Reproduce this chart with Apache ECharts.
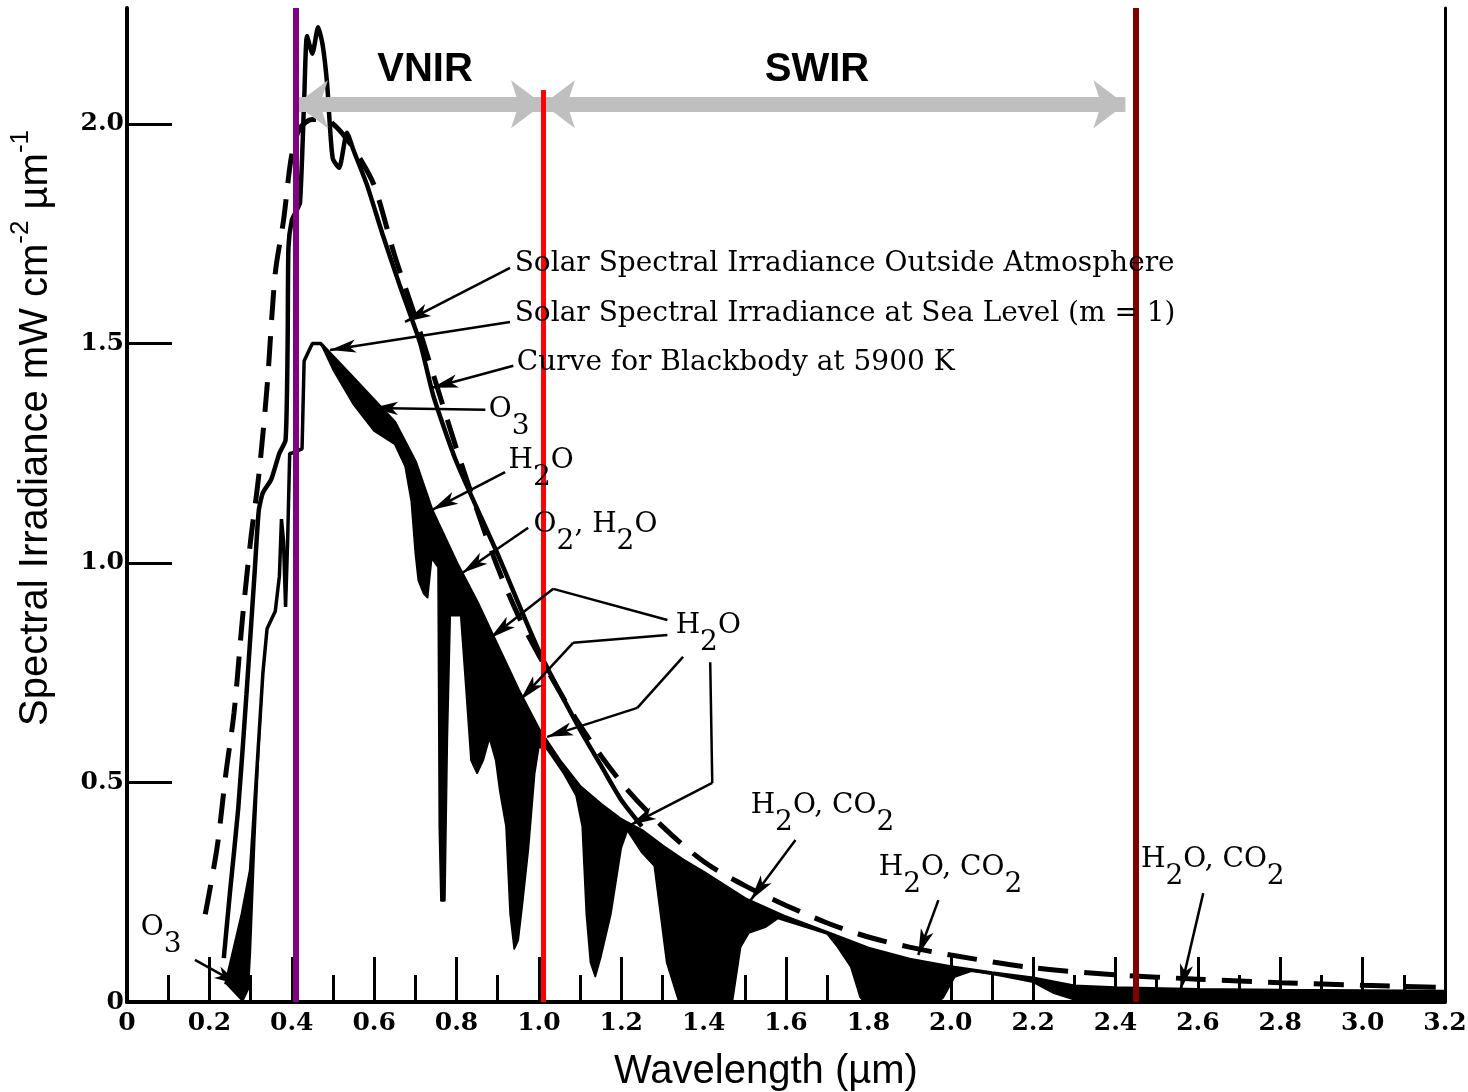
<!DOCTYPE html>
<html>
<head>
<meta charset="utf-8">
<title>Solar spectral irradiance</title>
<script src="https://cdn.jsdelivr.net/npm/echarts@6.0.0/dist/echarts.min.js"></script>
<style>
  html, body { margin: 0; padding: 0; background: #fff; }
  #chart { width: 1468px; height: 1092px; }
</style>
</head>
<body>
<div id="chart"></div>
<script>
// values: wavelength in µm, irradiance in mW cm-2 µm-1
var xTickVals = [0, 0.2, 0.4, 0.6, 0.8, 1.0, 1.2, 1.4, 1.6, 1.8, 2.0, 2.2, 2.4, 2.6, 2.8, 3.0, 3.2];
var xTickLabels = ['0', '0.2', '0.4', '0.6', '0.8', '1.0', '1.2', '1.4', '1.6', '1.8', '2.0', '2.2', '2.4', '2.6', '2.8', '3.0', '3.2'];
var yTickVals = [0, 0.5, 1.0, 1.5, 2.0];
var yTickLabels = ['0', '0.5', '1.0', '1.5', '2.0'];

// blackbody 5900 K (dashed)
var bbLam = [0.19, 0.20, 0.22, 0.24, 0.26, 0.28, 0.30, 0.32, 0.34, 0.36, 0.38, 0.40, 0.42, 0.45, 0.48, 0.50, 0.53, 0.56, 0.60, 0.65, 0.70, 0.75, 0.80, 0.85, 0.90, 0.95, 1.00, 1.10, 1.20, 1.30, 1.40, 1.50, 1.60, 1.70, 1.80, 1.90, 2.00, 2.20, 2.40, 2.60, 2.80, 3.00, 3.20];
var bbVal = [0.20, 0.25, 0.36, 0.52, 0.66, 0.87, 1.05, 1.20, 1.40, 1.66, 1.78, 1.93, 1.99, 2.01, 2.01, 2.00, 1.97, 1.93, 1.86, 1.70, 1.56, 1.41, 1.26, 1.12, 0.99, 0.88, 0.79, 0.63, 0.50, 0.40, 0.32, 0.265, 0.22, 0.18, 0.148, 0.125, 0.107, 0.078, 0.062, 0.052, 0.044, 0.038, 0.033];

// outside atmosphere (thick solid)
var outLam = [0.235, 0.25, 0.27, 0.29, 0.31, 0.32, 0.33, 0.35, 0.37, 0.385, 0.39, 0.392, 0.40, 0.41, 0.42, 0.43, 0.437, 0.45, 0.464, 0.475, 0.486, 0.493, 0.50, 0.515, 0.534, 0.55, 0.583, 0.62, 0.663, 0.712, 0.744, 0.80, 0.90, 1.00, 1.10, 1.15, 1.20, 1.25];
var outVal = [0.10, 0.25, 0.44, 0.70, 0.98, 1.12, 1.16, 1.19, 1.25, 1.28, 1.50, 1.72, 1.78, 1.80, 1.82, 2.05, 2.20, 2.16, 2.22, 2.18, 2.09, 1.99, 1.92, 1.90, 1.98, 1.94, 1.86, 1.75, 1.63, 1.50, 1.38, 1.23, 1.02, 0.80, 0.62, 0.54, 0.46, 0.40];

// sea level without molecular absorption (top of the black bands)
var envLam = [0.24, 0.26, 0.28, 0.30, 0.31, 0.32, 0.33, 0.34, 0.35, 0.36, 0.37, 0.375, 0.38, 0.385, 0.39, 0.395, 0.40, 0.425, 0.43, 0.45, 0.47, 0.50, 0.55, 0.60, 0.65, 0.70, 0.74, 0.80, 0.85, 0.90, 0.95, 1.00, 1.05, 1.10, 1.15, 1.20, 1.25, 1.30, 1.35, 1.40, 1.50, 1.60, 1.70, 1.80, 1.90, 2.00, 2.10, 2.20, 2.30, 2.40, 2.60, 2.80, 3.00, 3.20];
var envVal = [0.04, 0.12, 0.20, 0.30, 0.45, 0.60, 0.75, 0.85, 0.87, 0.89, 0.97, 1.10, 1.05, 0.90, 1.05, 1.25, 1.25, 1.26, 1.46, 1.50, 1.50, 1.47, 1.42, 1.37, 1.32, 1.23, 1.12, 1.00, 0.91, 0.81, 0.71, 0.62, 0.55, 0.49, 0.45, 0.415, 0.39, 0.355, 0.323, 0.295, 0.235, 0.193, 0.158, 0.122, 0.097, 0.080, 0.066, 0.054, 0.036, 0.032, 0.028, 0.026, 0.025, 0.024];

// sea level (m = 1), bottom of the black bands
var seaLam = [0.28, 0.295, 0.30, 0.31, 0.32, 0.33, 0.34, 0.35, 0.36, 0.37, 0.375, 0.38, 0.385, 0.39, 0.395, 0.40, 0.425, 0.43, 0.45, 0.47, 0.50, 0.55, 0.60, 0.65, 0.675, 0.69, 0.70, 0.707, 0.72, 0.73, 0.74, 0.755, 0.758, 0.762, 0.772, 0.778, 0.785, 0.81, 0.82, 0.835, 0.85, 0.865, 0.88, 0.895, 0.905, 0.92, 0.93, 0.94, 0.95, 0.96, 0.975, 0.99, 1.00, 1.02, 1.06, 1.09, 1.105, 1.115, 1.125, 1.137, 1.15, 1.16, 1.175, 1.20, 1.215, 1.25, 1.28, 1.295, 1.31, 1.34, 1.47, 1.49, 1.51, 1.55, 1.58, 1.70, 1.725, 1.757, 1.78, 1.79, 1.97, 1.982, 2.01, 2.05, 2.10, 2.20, 2.25, 2.30, 2.35, 3.20];
var seaVal = [0.0, 0.03, 0.12, 0.36, 0.57, 0.74, 0.85, 0.87, 0.89, 0.97, 1.10, 1.05, 0.90, 1.05, 1.25, 1.25, 1.26, 1.46, 1.50, 1.50, 1.44, 1.36, 1.30, 1.27, 1.22, 1.14, 1.02, 0.96, 0.93, 0.92, 1.01, 0.99, 0.40, 0.23, 0.23, 0.60, 0.88, 0.88, 0.75, 0.55, 0.52, 0.55, 0.60, 0.55, 0.48, 0.40, 0.20, 0.12, 0.14, 0.22, 0.35, 0.52, 0.58, 0.575, 0.52, 0.47, 0.40, 0.20, 0.09, 0.057, 0.10, 0.14, 0.20, 0.35, 0.39, 0.34, 0.31, 0.20, 0.09, 0.0, 0.0, 0.125, 0.157, 0.17, 0.19, 0.155, 0.125, 0.08, 0.01, 0.0, 0.0, 0.01, 0.057, 0.07, 0.063, 0.045, 0.02, 0.005, 0.0, 0.0];

// band limits (µm) and how high the marker lines reach
var bandLam = [0.41, 1.01, 2.448];
var bandTop = [2.264, 2.077, 2.264];
var arrowLevel = 2.045;
var swirEnd = 2.424;

// annotation texts, their anchors and leader paths
var noteTexts = ['Solar Spectral Irradiance Outside Atmosphere', 'Solar Spectral Irradiance at Sea Level (m = 1)', 'Curve for Blackbody at 5900 K', 'O_3', 'H_2O', 'O_2, H_2O', 'H_2O', 'H_2O, CO_2', 'H_2O, CO_2', 'H_2O, CO_2', 'O_3'];
var noteLam = [0.940, 0.940, 0.945, 0.877, 0.925, 0.986, 1.331, 1.513, 1.824, 2.461, 0.032];
var noteVal = [1.679, 1.565, 1.453, 1.344, 1.228, 1.082, 0.852, 0.442, 0.301, 0.319, 0.164];
var leaderPaths = [
  [[0.930, 1.672], [0.675, 1.549]],
  [[0.930, 1.549], [0.493, 1.485]],
  [[0.938, 1.449], [0.741, 1.399]],
  [[0.870, 1.349], [0.595, 1.353]],
  [[0.918, 1.207], [0.741, 1.121]],
  [[0.974, 1.080], [0.814, 0.977]],
  [[1.312, 0.870], [1.035, 0.941], [0.882, 0.829]],
  [[1.312, 0.836], [1.083, 0.818], [0.955, 0.688]],
  [[1.350, 0.786], [1.239, 0.670], [1.020, 0.604]],
  [[1.416, 0.774], [1.421, 0.499], [1.222, 0.403]],
  [[1.623, 0.369], [1.514, 0.232]],
  [[1.970, 0.232], [1.921, 0.107]],
  [[2.613, 0.248], [2.558, 0.027]],
  [[0.165, 0.096], [0.274, 0.039]]
];

var serif = 'DejaVu Serif';
var sans = 'Liberation Sans, Arial, sans-serif';

function pairs(xs, ys) {
  return xs.map(function (x, i) { return [x, ys[i]]; });
}

function lookup(vals, labels, v) {
  for (var i = 0; i < vals.length; i++) {
    if (Math.abs(vals[i] - v) < 1e-6) return labels[i];
  }
  return '';
}

// 'H_2O' -> rich text with a lowered 2
function richText(t) {
  return t.split(/(_\d)/).map(function (p) {
    if (!p) return '';
    return p.charAt(0) === '_' ? '{s|' + p.slice(1) + '}' : '{m|' + p + '}';
  }).join('');
}

var leaderData = [];
leaderPaths.forEach(function (path) {
  for (var i = 0; i < path.length - 1; i++) {
    var last = i === path.length - 2;
    leaderData.push([
      { coord: path[i], symbol: 'none' },
      { coord: path[i + 1], symbol: last ? 'arrow' : 'none', symbolSize: [10, 26] }
    ]);
  }
});

var noteData = noteTexts.map(function (t, i) {
  var hasSub = t.indexOf('_') >= 0;
  return {
    coord: [noteLam[i], noteVal[i]],
    label: { formatter: richText(t), offset: [0, hasSub ? 15 : 0] }
  };
});

var grey = { color: '#bfbfbf', width: 15, type: 'solid' };
var bandColors = ['#800080', '#ff0000', '#800000'];
var bandWidths = [6, 5, 6];
var bandData = [
  [
    { coord: [bandLam[0], arrowLevel], symbol: 'arrow', symbolSize: [36, 32], lineStyle: grey },
    { coord: [bandLam[1], arrowLevel], symbol: 'arrow', symbolSize: [36, 32] }
  ],
  [
    { coord: [bandLam[1], arrowLevel], symbol: 'arrow', symbolSize: [36, 32], lineStyle: grey },
    { coord: [swirEnd, arrowLevel], symbol: 'arrow', symbolSize: [36, 32] }
  ]
];
bandLam.forEach(function (l, i) {
  bandData.push([
    { coord: [l, 0], symbol: 'none', lineStyle: { color: bandColors[i], width: bandWidths[i], type: 'solid' } },
    { coord: [l, bandTop[i]], symbol: 'none' }
  ]);
});

var chart = echarts.init(document.getElementById('chart'));

var option = {
  animation: false,
  backgroundColor: '#fff',
  grid: { left: 127, right: 23, top: 8, bottom: 90, outerBoundsMode: 'none' },
  xAxis: {
    type: 'value',
    min: 0,
    max: 3.2,
    interval: 0.2,
    axisLine: { lineStyle: { color: '#000', width: 4 } },
    axisTick: { inside: true, length: 45, lineStyle: { color: '#000', width: 3 } },
    minorTick: { show: true, splitNumber: 2, length: 27, lineStyle: { color: '#000', width: 3 } },
    axisLabel: {
      margin: 9,
      color: '#000',
      fontFamily: serif,
      fontWeight: 'bold',
      fontSize: 25,
      formatter: function (v) { return lookup(xTickVals, xTickLabels, v); }
    },
    splitLine: { show: false },
    minorSplitLine: { show: false }
  },
  yAxis: [
    {
      type: 'value',
      min: 0,
      max: 2.264,
      axisLine: { show: true, lineStyle: { color: '#000', width: 4 } },
      axisTick: { show: true, inside: true, length: 45, customValues: [0.5, 1.0, 1.5, 2.0], lineStyle: { color: '#000', width: 3 } },
      axisLabel: {
        customValues: yTickVals,
        margin: 3,
        color: '#000',
        fontFamily: serif,
        fontWeight: 'bold',
        fontSize: 25,
        formatter: function (v) { return lookup(yTickVals, yTickLabels, v); }
      },
      splitLine: { show: false }
    },
    {
      type: 'value',
      position: 'right',
      min: 0,
      max: 2.264,
      axisLine: { show: true, lineStyle: { color: '#000', width: 3 } },
      axisTick: { show: false },
      axisLabel: { show: false },
      splitLine: { show: false }
    }
  ],
  graphic: [
    {
      type: 'text',
      x: 32,
      y: 428,
      rotation: Math.PI / 2,
      style: {
        text: '{m|Spectral Irradiance mW cm}{u|-2}{m| µm}{u|-1}',
        align: 'center',
        verticalAlign: 'middle',
        fill: '#000',
        rich: {
          m: { fontFamily: sans, fontSize: 40, lineHeight: 48, verticalAlign: 'bottom', fill: '#000' },
          u: { fontFamily: sans, fontSize: 26, lineHeight: 26, verticalAlign: 'top', fill: '#000' }
        }
      }
    },
    {
      type: 'text',
      x: 766,
      y: 1072,
      style: { text: 'Wavelength (µm)', font: '40px ' + sans, align: 'center', verticalAlign: 'middle', fill: '#000' }
    },
    {
      type: 'text',
      x: 425,
      y: 70,
      style: { text: 'VNIR', font: 'bold 40px ' + sans, align: 'center', verticalAlign: 'middle', fill: '#000' }
    },
    {
      type: 'text',
      x: 817,
      y: 70,
      style: { text: 'SWIR', font: 'bold 40px ' + sans, align: 'center', verticalAlign: 'middle', fill: '#000' }
    }
  ],
  series: [
    {
      name: 'Curve for Blackbody at 5900 K',
      type: 'line',
      data: pairs(bbLam, bbVal),
      showSymbol: false,
      smooth: 0.3,
      z: 2,
      lineStyle: { color: '#000', width: 5, type: [30, 16], cap: 'butt' }
    },
    {
      name: 'Outside Atmosphere',
      type: 'line',
      data: pairs(outLam, outVal),
      showSymbol: false,
      smooth: 0.2,
      z: 2,
      lineStyle: { color: '#000', width: 4.5 }
    },
    {
      name: 'Absorption',
      type: 'custom',
      coordinateSystem: 'cartesian2d',
      data: [[0, 0]],
      clip: false,
      silent: true,
      z: 3,
      renderItem: function (params, api) {
        var pts = [];
        envLam.forEach(function (l, i) { pts.push(api.coord([l, envVal[i]])); });
        for (var i = seaLam.length - 1; i >= 0; i--) {
          pts.push(api.coord([seaLam[i], seaVal[i]]));
        }
        return { type: 'polygon', shape: { points: pts }, style: { fill: '#000' } };
      }
    },
    {
      name: 'Sea Level envelope',
      type: 'line',
      data: pairs(envLam, envVal),
      showSymbol: false,
      z: 4,
      lineStyle: { color: '#000', width: 3.5 }
    },
    {
      name: 'Sea Level',
      type: 'line',
      data: pairs(seaLam, seaVal),
      showSymbol: false,
      z: 4,
      lineStyle: { color: '#000', width: 1.5 }
    },
    {
      name: 'bands',
      type: 'line',
      data: [],
      z: 8,
      markLine: {
        silent: true,
        z: 8,
        symbol: 'none',
        label: { show: false },
        data: bandData
      }
    },
    {
      name: 'notes',
      type: 'line',
      data: [],
      z: 10,
      markLine: {
        silent: true,
        z: 10,
        label: { show: false },
        lineStyle: { color: '#000', width: 2.5, type: 'solid' },
        itemStyle: { color: '#000' },
        data: leaderData
      },
      markPoint: {
        silent: true,
        z: 10,
        symbol: 'circle',
        symbolSize: 1,
        itemStyle: { color: 'rgba(0,0,0,0)' },
        label: {
          show: true,
          position: 'right',
          distance: 0,
          color: '#000',
          rich: {
            m: { fontFamily: serif, fontSize: 28, lineHeight: 30, verticalAlign: 'top', color: '#000' },
            s: { fontFamily: serif, fontSize: 28, lineHeight: 62, verticalAlign: 'middle', color: '#000' }
          }
        },
        data: noteData
      }
    }
  ]
};

chart.setOption(option);
</script>
</body>
</html>
